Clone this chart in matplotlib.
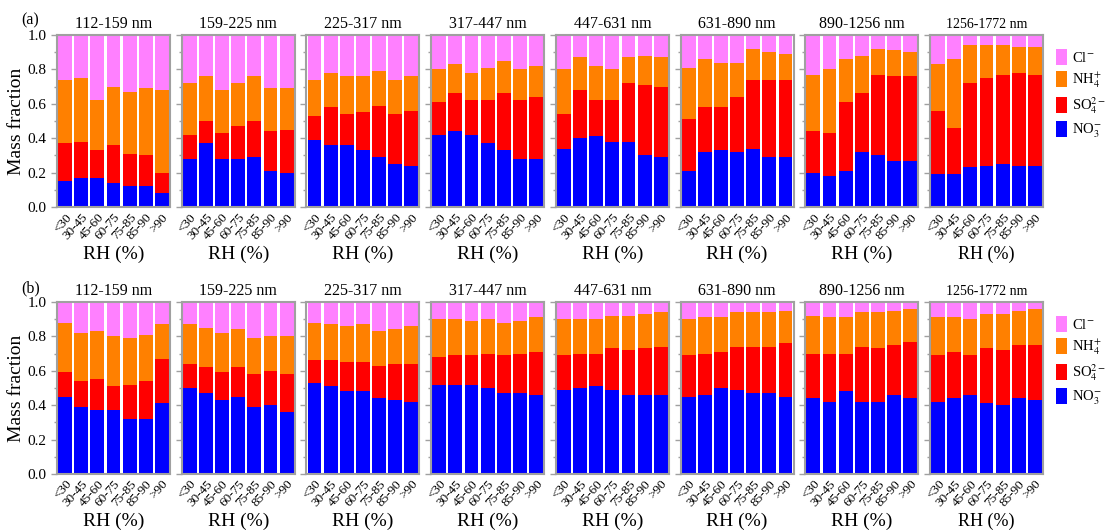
import matplotlib
matplotlib.use("Agg")
import matplotlib.pyplot as plt
import numpy as np

plt.rcParams['font.family'] = ['Liberation Serif', 'DejaVu Serif']
plt.rcParams['mathtext.fontset'] = 'stix'

sizes = ['112-159 nm', '159-225 nm', '225-317 nm', '317-447 nm',
         '447-631 nm', '631-890 nm', '890-1256 nm', '1256-1772 nm']
rh_bins = ['<30', '30-45', '45-60', '60-75', '75-85', '85-90', '>90']

# (a) mass fractions, one row per size bin, one column per RH bin
no3_a = [[0.15, 0.17, 0.17, 0.14, 0.12, 0.12, 0.08],
         [0.28, 0.37, 0.28, 0.28, 0.29, 0.21, 0.20],
         [0.39, 0.36, 0.36, 0.33, 0.29, 0.25, 0.24],
         [0.42, 0.44, 0.42, 0.37, 0.33, 0.28, 0.28],
         [0.34, 0.40, 0.41, 0.38, 0.38, 0.30, 0.29],
         [0.21, 0.32, 0.33, 0.32, 0.34, 0.29, 0.29],
         [0.20, 0.18, 0.21, 0.32, 0.30, 0.27, 0.27],
         [0.19, 0.19, 0.23, 0.24, 0.25, 0.24, 0.24]]
so4_a = [[0.22, 0.21, 0.16, 0.22, 0.19, 0.18, 0.12],
         [0.14, 0.13, 0.15, 0.19, 0.21, 0.23, 0.25],
         [0.14, 0.22, 0.18, 0.22, 0.30, 0.29, 0.32],
         [0.19, 0.22, 0.20, 0.25, 0.33, 0.34, 0.36],
         [0.20, 0.28, 0.21, 0.24, 0.34, 0.41, 0.41],
         [0.30, 0.26, 0.25, 0.32, 0.40, 0.45, 0.45],
         [0.24, 0.25, 0.40, 0.34, 0.47, 0.49, 0.49],
         [0.37, 0.27, 0.49, 0.51, 0.52, 0.54, 0.53]]
nh4_a = [[0.37, 0.37, 0.29, 0.34, 0.36, 0.39, 0.48],
         [0.30, 0.26, 0.25, 0.25, 0.26, 0.25, 0.24],
         [0.21, 0.20, 0.22, 0.21, 0.20, 0.20, 0.20],
         [0.19, 0.17, 0.16, 0.19, 0.19, 0.18, 0.18],
         [0.26, 0.19, 0.20, 0.18, 0.15, 0.17, 0.17],
         [0.30, 0.28, 0.26, 0.20, 0.18, 0.16, 0.15],
         [0.33, 0.37, 0.25, 0.22, 0.15, 0.15, 0.14],
         [0.27, 0.40, 0.22, 0.19, 0.17, 0.15, 0.16]]
cl_a = [[0.26, 0.25, 0.38, 0.30, 0.33, 0.31, 0.32],
        [0.28, 0.24, 0.32, 0.28, 0.24, 0.31, 0.31],
        [0.26, 0.22, 0.24, 0.24, 0.21, 0.26, 0.24],
        [0.20, 0.17, 0.22, 0.19, 0.15, 0.20, 0.18],
        [0.20, 0.13, 0.18, 0.20, 0.13, 0.12, 0.13],
        [0.19, 0.14, 0.16, 0.16, 0.08, 0.10, 0.11],
        [0.23, 0.20, 0.14, 0.12, 0.08, 0.09, 0.10],
        [0.17, 0.14, 0.06, 0.06, 0.06, 0.07, 0.07]]

# (b)
no3_b = [[0.45, 0.39, 0.37, 0.37, 0.32, 0.32, 0.41],
         [0.50, 0.47, 0.43, 0.45, 0.39, 0.40, 0.36],
         [0.53, 0.51, 0.48, 0.48, 0.44, 0.43, 0.42],
         [0.52, 0.52, 0.52, 0.50, 0.47, 0.47, 0.46],
         [0.49, 0.50, 0.51, 0.49, 0.46, 0.46, 0.46],
         [0.45, 0.46, 0.50, 0.49, 0.47, 0.47, 0.45],
         [0.44, 0.42, 0.48, 0.42, 0.42, 0.46, 0.44],
         [0.42, 0.44, 0.46, 0.41, 0.40, 0.44, 0.43]]
so4_b = [[0.14, 0.15, 0.18, 0.14, 0.20, 0.22, 0.26],
         [0.14, 0.15, 0.16, 0.17, 0.19, 0.20, 0.22],
         [0.13, 0.15, 0.17, 0.17, 0.19, 0.21, 0.22],
         [0.16, 0.17, 0.17, 0.20, 0.22, 0.23, 0.25],
         [0.20, 0.20, 0.19, 0.24, 0.26, 0.27, 0.28],
         [0.24, 0.24, 0.21, 0.25, 0.27, 0.27, 0.31],
         [0.26, 0.28, 0.22, 0.32, 0.31, 0.29, 0.33],
         [0.27, 0.27, 0.23, 0.32, 0.32, 0.31, 0.32]]
nh4_b = [[0.29, 0.28, 0.28, 0.29, 0.27, 0.27, 0.20],
         [0.23, 0.23, 0.23, 0.22, 0.21, 0.20, 0.22],
         [0.22, 0.21, 0.21, 0.22, 0.20, 0.20, 0.22],
         [0.22, 0.21, 0.20, 0.20, 0.19, 0.19, 0.20],
         [0.21, 0.20, 0.20, 0.19, 0.20, 0.20, 0.20],
         [0.21, 0.21, 0.20, 0.20, 0.20, 0.20, 0.19],
         [0.22, 0.21, 0.21, 0.20, 0.21, 0.20, 0.19],
         [0.22, 0.20, 0.21, 0.20, 0.21, 0.20, 0.21]]
cl_b = [[0.12, 0.18, 0.17, 0.20, 0.21, 0.19, 0.13],
        [0.13, 0.15, 0.18, 0.16, 0.21, 0.20, 0.20],
        [0.12, 0.13, 0.14, 0.13, 0.17, 0.16, 0.14],
        [0.10, 0.10, 0.11, 0.10, 0.12, 0.11, 0.09],
        [0.10, 0.10, 0.10, 0.08, 0.08, 0.07, 0.06],
        [0.10, 0.09, 0.09, 0.06, 0.06, 0.06, 0.05],
        [0.08, 0.09, 0.09, 0.06, 0.06, 0.05, 0.04],
        [0.09, 0.09, 0.10, 0.07, 0.07, 0.05, 0.04]]

species = [r'NO$_3^{-}$', r'SO$_4^{2-}$', r'NH$_4^{+}$', r'Cl$^{-}$']
colors = ['#0000ff', '#ff0000', '#ff8000', '#ff80ff']
spine_col = '#a0a0a0'

fig, axes = plt.subplots(2, 8, figsize=(11.05, 5.3), dpi=100, sharey=True)
fig.subplots_adjust(left=0.0516, right=0.9439, top=0.934, bottom=0.1057,
                    wspace=0.104, hspace=0.552)

rows = [(no3_a, so4_a, nh4_a, cl_a), (no3_b, so4_b, nh4_b, cl_b)]
x = np.arange(len(rh_bins))

for r, data in enumerate(rows):
    for p in range(8):
        ax = axes[r, p]
        bottom = np.zeros(len(rh_bins))
        handles = []
        for k in range(4):
            vals = np.array(data[k][p])
            h = ax.bar(x, vals, 0.86, bottom=bottom, color=colors[k], label=species[k])
            handles.append(h)
            bottom += vals
        ax.set_xlim(-0.5, 6.5)
        ax.set_ylim(0, 1)
        ax.set_yticks(np.arange(0, 1.01, 0.2))
        ax.set_yticks(np.arange(0.1, 1.0, 0.2), minor=True)
        ax.set_xticks(x)
        ax.set_xticklabels(rh_bins, rotation=48, ha='right', rotation_mode='anchor', fontsize=9.5)
        ax.tick_params(axis='x', length=0, pad=3)
        ax.tick_params(axis='y', which='major', length=4, width=1, color=spine_col, labelsize=11)
        ax.tick_params(axis='y', which='minor', length=2.5, width=1, color=spine_col)
        for s in ax.spines.values():
            s.set_color(spine_col)
            s.set_linewidth(1.5)
        ax.set_title(sizes[p], fontsize=10 if p == 7 else 11.5, pad=5)
        ax.set_xlabel('RH (%)', fontsize=14 if p < 7 else 13)
        ax.xaxis.set_label_coords(0.5, -0.225)
        if p == 0:
            ax.set_yticklabels(['0.0', '0.2', '0.4', '0.6', '0.8', '1.0'])
            ax.set_ylabel('Mass fraction', fontsize=14, labelpad=2)
        if p == 7:
            ax.legend(handles[::-1], species[::-1], loc='upper left',
                      bbox_to_anchor=(1.06, 0.95), frameon=False, fontsize=10.5,
                      handlelength=0.8, handleheight=1.3, handletextpad=0.3,
                      labelspacing=0.35, borderaxespad=0)

fig.text(0.019, 0.962, '(a)', fontsize=11.5, va='center')
fig.text(0.019, 0.455, '(b)', fontsize=11.5, va='center')

fig.savefig('out.png', dpi=100)
